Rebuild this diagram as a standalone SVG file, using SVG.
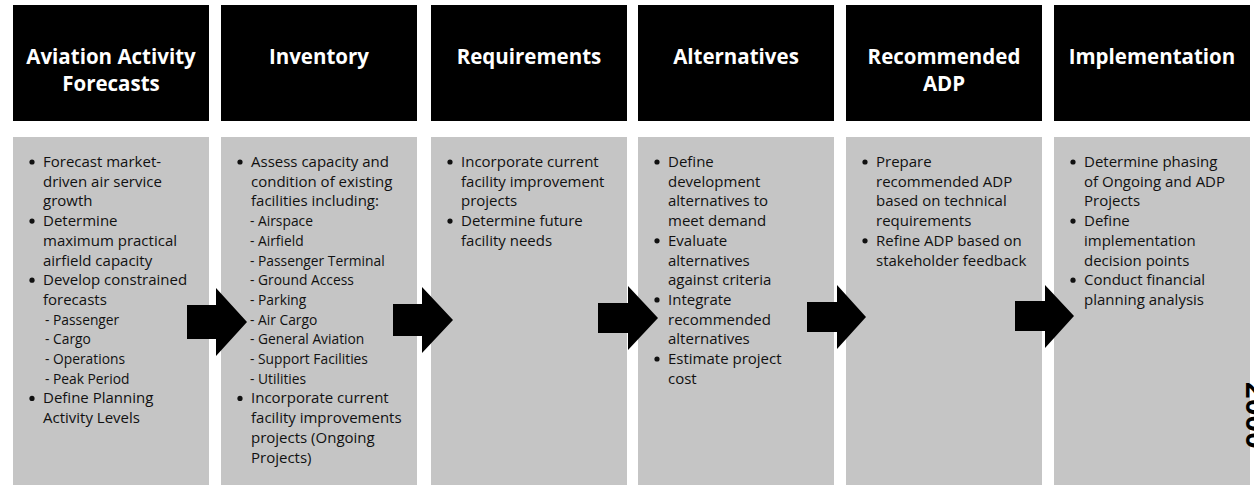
<svg xmlns="http://www.w3.org/2000/svg" width="1254" height="490" viewBox="0 0 1254 490">
<style>
.hdr{fill:#000}
.panel{fill:#c5c5c5}
.ht{fill:#fff;font-family:"Open Sans","Liberation Sans",sans-serif;font-weight:bold;font-size:20.5px;text-anchor:middle}
.bt{fill:#111;font-family:"Open Sans","Liberation Sans",sans-serif;font-size:15px}
.sub{font-size:13.8px}
.dot{fill:#111}
.arrow{fill:#000}
.edge{fill:#000;font-family:"Liberation Sans",sans-serif;font-weight:bold;font-size:30px}
</style>
<rect width="1254" height="490" fill="#fff"/>

<g id="node-forecasts">
<rect class="hdr" x="13" y="5" width="196" height="116"/>
<text class="ht" x="111"><tspan x="111" y="64">Aviation Activity</tspan><tspan x="111" y="91">Forecasts</tspan></text>
<rect class="panel" x="13" y="137" width="196" height="348"/>
<circle class="dot" cx="32" cy="162" r="2.6"/><circle class="dot" cx="32" cy="221.1" r="2.6"/><circle class="dot" cx="32" cy="280.2" r="2.6"/><circle class="dot" cx="32" cy="398.4" r="2.6"/>
<text class="bt">
<tspan x="43" y="167">Forecast market-</tspan>
<tspan x="43" y="186.7">driven air service</tspan>
<tspan x="43" y="206.4">growth</tspan>
<tspan x="43" y="226.1">Determine</tspan>
<tspan x="43" y="245.8">maximum practical</tspan>
<tspan x="43" y="265.5">airfield capacity</tspan>
<tspan x="43" y="285.2">Develop constrained</tspan>
<tspan x="43" y="304.9">forecasts</tspan>
<tspan class="sub" x="45" y="324.6">- Passenger</tspan>
<tspan class="sub" x="45" y="344.3">- Cargo</tspan>
<tspan class="sub" x="45" y="364">- Operations</tspan>
<tspan class="sub" x="45" y="383.7">- Peak Period</tspan>
<tspan x="43" y="403.4">Define Planning</tspan>
<tspan x="43" y="423.1">Activity Levels</tspan>
</text>
</g>

<g id="node-inventory">
<rect class="hdr" x="221" y="5" width="196" height="116"/>
<text class="ht" x="319" y="64">Inventory</text>
<rect class="panel" x="221" y="137" width="196" height="348"/>
<circle class="dot" cx="240" cy="162" r="2.6"/><circle class="dot" cx="240" cy="398.4" r="2.6"/>
<text class="bt">
<tspan x="251" y="167">Assess capacity and</tspan>
<tspan x="251" y="186.7">condition of existing</tspan>
<tspan x="251" y="206.4">facilities including:</tspan>
<tspan class="sub" x="250" y="226.1">- Airspace</tspan>
<tspan class="sub" x="250" y="245.8">- Airfield</tspan>
<tspan class="sub" x="250" y="265.5">- Passenger Terminal</tspan>
<tspan class="sub" x="250" y="285.2">- Ground Access</tspan>
<tspan class="sub" x="250" y="304.9">- Parking</tspan>
<tspan class="sub" x="250" y="324.6">- Air Cargo</tspan>
<tspan class="sub" x="250" y="344.3">- General Aviation</tspan>
<tspan class="sub" x="250" y="364">- Support Facilities</tspan>
<tspan class="sub" x="250" y="383.7">- Utilities</tspan>
<tspan x="251" y="403.4">Incorporate current</tspan>
<tspan x="251" y="423.1">facility improvements</tspan>
<tspan x="251" y="442.8">projects (Ongoing</tspan>
<tspan x="251" y="462.5">Projects)</tspan>
</text>
</g>

<g id="node-requirements">
<rect class="hdr" x="431" y="5" width="196" height="116"/>
<text class="ht" x="529" y="64">Requirements</text>
<rect class="panel" x="431" y="137" width="196" height="348"/>
<circle class="dot" cx="450" cy="162" r="2.6"/><circle class="dot" cx="450" cy="221.1" r="2.6"/>
<text class="bt">
<tspan x="461" y="167">Incorporate current</tspan>
<tspan x="461" y="186.7">facility improvement</tspan>
<tspan x="461" y="206.4">projects</tspan>
<tspan x="461" y="226.1">Determine future</tspan>
<tspan x="461" y="245.8">facility needs</tspan>
</text>
</g>

<g id="node-alternatives">
<rect class="hdr" x="638" y="5" width="196" height="116"/>
<text class="ht" x="736" y="64">Alternatives</text>
<rect class="panel" x="638" y="137" width="196" height="348"/>
<circle class="dot" cx="657" cy="162" r="2.6"/><circle class="dot" cx="657" cy="240.8" r="2.6"/><circle class="dot" cx="657" cy="299.9" r="2.6"/><circle class="dot" cx="657" cy="359" r="2.6"/>
<text class="bt">
<tspan x="668" y="167">Define</tspan>
<tspan x="668" y="186.7">development</tspan>
<tspan x="668" y="206.4">alternatives to</tspan>
<tspan x="668" y="226.1">meet demand</tspan>
<tspan x="668" y="245.8">Evaluate</tspan>
<tspan x="668" y="265.5">alternatives</tspan>
<tspan x="668" y="285.2">against criteria</tspan>
<tspan x="668" y="304.9">Integrate</tspan>
<tspan x="668" y="324.6">recommended</tspan>
<tspan x="668" y="344.3">alternatives</tspan>
<tspan x="668" y="364">Estimate project</tspan>
<tspan x="668" y="383.7">cost</tspan>
</text>
</g>

<g id="node-recommended">
<rect class="hdr" x="846" y="5" width="196" height="116"/>
<text class="ht" x="944"><tspan x="944" y="64">Recommended</tspan><tspan x="944" y="91">ADP</tspan></text>
<rect class="panel" x="846" y="137" width="196" height="348"/>
<circle class="dot" cx="865" cy="162" r="2.6"/><circle class="dot" cx="865" cy="240.8" r="2.6"/>
<text class="bt">
<tspan x="876" y="167">Prepare</tspan>
<tspan x="876" y="186.7">recommended ADP</tspan>
<tspan x="876" y="206.4">based on technical</tspan>
<tspan x="876" y="226.1">requirements</tspan>
<tspan x="876" y="245.8">Refine ADP based on</tspan>
<tspan x="876" y="265.5">stakeholder feedback</tspan>
</text>
</g>

<g id="node-implementation">
<rect class="hdr" x="1054" y="5" width="196" height="116"/>
<text class="ht" x="1152" y="64">Implementation</text>
<rect class="panel" x="1054" y="137" width="196" height="348"/>
<circle class="dot" cx="1073" cy="162" r="2.6"/><circle class="dot" cx="1073" cy="221.1" r="2.6"/><circle class="dot" cx="1073" cy="280.2" r="2.6"/>
<text class="bt">
<tspan x="1084" y="167">Determine phasing</tspan>
<tspan x="1084" y="186.7">of Ongoing and ADP</tspan>
<tspan x="1084" y="206.4">Projects</tspan>
<tspan x="1084" y="226.1">Define</tspan>
<tspan x="1084" y="245.8">implementation</tspan>
<tspan x="1084" y="265.5">decision points</tspan>
<tspan x="1084" y="285.2">Conduct financial</tspan>
<tspan x="1084" y="304.9">planning analysis</tspan>
</text>
</g>

<g id="connectors">
<polygon class="arrow" points="187,305 216,305 216,288 247,322 216,356 216,339 187,339"/>
<polygon class="arrow" points="393,304 422,304 422,287 453,320 422,353 422,336 393,336"/>
<polygon class="arrow" points="598,303 628,303 628,286 658,318 628,350 628,333 598,333"/>
<polygon class="arrow" points="807,302 837,302 837,285 866,317 837,349 837,332 807,332"/>
<polygon class="arrow" points="1015,301 1045,301 1045,285 1074,316 1045,348 1045,331 1015,331"/>
</g>

<text class="edge" transform="translate(1246,382) rotate(90)">2000</text>
</svg>
